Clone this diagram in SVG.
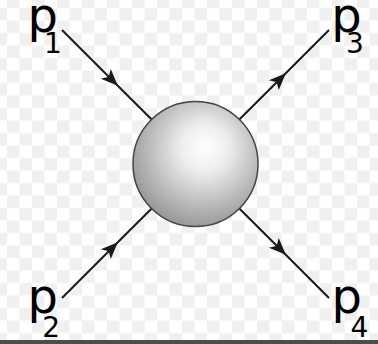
<svg xmlns="http://www.w3.org/2000/svg" width="378" height="344" viewBox="0 0 378 344">
  <style>
    .lbl { font-family: "DejaVu Sans", "Liberation Sans", sans-serif; fill: #000; font-size: 48px; }
    .sub { font-size: 28px; }
    .edge { fill: none; stroke: #1a1a1a; stroke-width: 2; marker-mid: url(#arr); }
  </style>
  <defs>
    <pattern id="checker" x="7" y="-4.5" width="25" height="25" patternUnits="userSpaceOnUse">
      <rect width="25" height="25" fill="#ffffff"/>
      <rect width="12.5" height="12.5" fill="#f0f0f0"/>
      <rect x="12.5" y="12.5" width="12.5" height="12.5" fill="#f0f0f0"/>
    </pattern>
    <radialGradient id="ball" cx="0.56" cy="0.4" r="0.62" fx="0.58" fy="0.36">
      <stop offset="0" stop-color="#ffffff"/>
      <stop offset="0.3" stop-color="#eeeeee"/>
      <stop offset="1" stop-color="#969696"/>
    </radialGradient>
    <marker id="arr" markerUnits="userSpaceOnUse" markerWidth="24" markerHeight="20" viewBox="-12 -10 24 20" refX="0" refY="0" orient="auto" overflow="visible">
      <path d="M9,0 L-8,-7 L-4,0 L-8,7 Z" fill="#1a1a1a"/>
    </marker>
  </defs>

  <rect width="378" height="344" fill="url(#checker)"/>
  <rect x="0" y="340" width="378" height="4" fill="#4d4d4d"/>

  <g id="connectors">
    <path class="edge" d="M62,30 L111.5,79.5 L151.7,119.5"/>
    <path class="edge" d="M62,298 L111.5,248.5 L151.7,208.5"/>
    <path class="edge" d="M239.3,119.5 L279.5,79.5 L329,30"/>
    <path class="edge" d="M239.3,208.5 L279.5,248.5 L329,298"/>
  </g>

  <g id="vertex">
    <circle cx="195.5" cy="164" r="62.5" fill="url(#ball)" stroke="#444" stroke-width="1.5"/>
  </g>

  <g id="p1">
    <text class="lbl" x="27.6" y="32">p<tspan class="sub" x="44" y="53">1</tspan></text>
  </g>
  <g id="p2">
    <text class="lbl" x="27.6" y="313">p<tspan class="sub" x="42.3" y="337">2</tspan></text>
  </g>
  <g id="p3">
    <text class="lbl" x="331.3" y="32">p<tspan class="sub" x="346" y="53">3</tspan></text>
  </g>
  <g id="p4">
    <text class="lbl" x="331.6" y="313">p<tspan class="sub" x="350.6" y="337">4</tspan></text>
  </g>
</svg>
